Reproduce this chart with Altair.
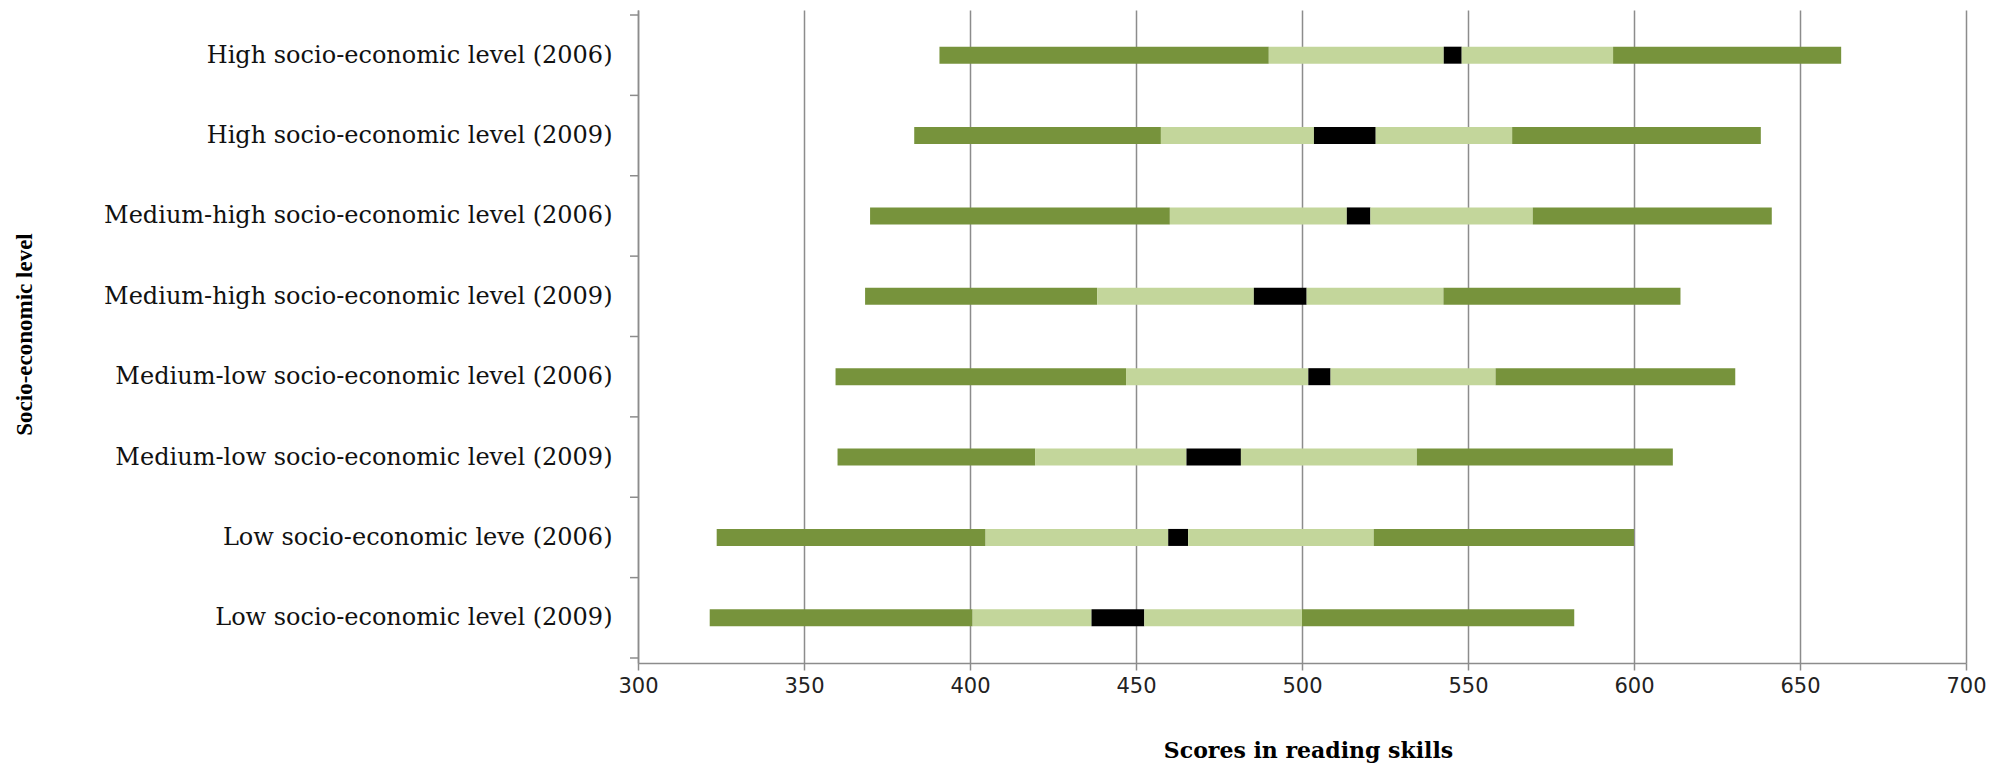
import json
import altair as alt
import pandas as pd

# Reading-skills score distribution by socio-economic level, PISA 2006 vs 2009
groups = [
    "High socio-economic level (2006)",
    "High socio-economic level (2009)",
    "Medium-high socio-economic level (2006)",
    "Medium-high socio-economic level (2009)",
    "Medium-low socio-economic level (2006)",
    "Medium-low socio-economic level (2009)",
    "Low socio-economic leve (2006)",
    "Low socio-economic level (2009)",
]
p5 = [390.8, 383.2, 369.9, 368.4, 359.5, 360.1, 323.7, 321.6]
p25 = [490.0, 457.5, 460.2, 438.3, 447.0, 419.6, 404.7, 400.8]
mean_lo = [542.7, 503.6, 513.5, 485.5, 501.9, 465.2, 459.7, 436.6]
mean_hi = [548.1, 522.2, 520.6, 501.4, 508.6, 481.6, 465.7, 452.5]
p75 = [593.7, 563.3, 569.5, 542.6, 558.3, 534.6, 521.6, 500.0]
p95 = [662.4, 638.2, 641.5, 614.0, 630.5, 611.7, 600.0, 582.0]
x_ticks = [300, 350, 400, 450, 500, 550, 600, 650, 700]

segment_names = ["p5-p25", "p25-mean", "mean", "mean-p75", "p75-p95"]
segment_colors = ["#77933C", "#C3D69B", "#000000", "#C3D69B", "#77933C"]

rows = []
for i, g in enumerate(groups):
    edges = [p5[i], p25[i], mean_lo[i], mean_hi[i], p75[i], p95[i]]
    for k, name in enumerate(segment_names):
        rows.append({"group": g, "pos": i + 0.5, "segment": name,
                     "start": edges[k], "end": edges[k + 1]})
segments = pd.DataFrame(rows)
boundaries = pd.DataFrame({"pos": list(range(len(groups) + 1))})

grey = "#8c8c8c"
y_scale = alt.Scale(domain=[0, len(groups)], reverse=True, nice=False, zero=False)
x_scale = alt.Scale(domain=[300, 700], nice=False, zero=False)

label_expr = f"{json.dumps(groups)}[floor(datum.value)]"

y_axis = alt.Axis(values=[i + 0.5 for i in range(len(groups))],
                  labelExpr=label_expr, ticks=False, grid=False,
                  domainColor=grey, domainWidth=1.5,
                  labelFont="DejaVu Serif", labelFontSize=24, labelLimit=0,
                  labelColor="#111111", labelPadding=26,
                  title="Socio-economic level", titleFont="Liberation Serif",
                  titleFontWeight="bold", titleFontSize=23, titleColor="#000000",
                  titleX=-614, titleY=324, titleAngle=270,
                  titleAlign="center", titleBaseline="middle")

x_axis = alt.Axis(values=x_ticks, grid=True, gridColor=grey, gridWidth=1.5,
                  domainColor=grey, domainWidth=1.5, tickColor=grey,
                  tickWidth=1.5, tickSize=7, labelFont="DejaVu Sans",
                  labelFontSize=21, labelColor="#222222", labelPadding=5,
                  labelFlush=False,
                  title="Scores in reading skills", titleFont="DejaVu Serif",
                  titleFontWeight="bold", titleFontSize=22, titleColor="#000000",
                  titleX=670, titleY=87, titleAlign="center",
                  titleBaseline="middle")

bars = alt.Chart(segments).mark_bar(orient="horizontal", size=17).encode(
    x=alt.X("start:Q", scale=x_scale, axis=x_axis),
    x2="end:Q",
    y=alt.Y("pos:Q", scale=y_scale, axis=y_axis),
    color=alt.Color("segment:N", scale=alt.Scale(domain=segment_names, range=segment_colors),
                    legend=None),
)

# category separator ticks on the left axis
seps = alt.Chart(boundaries).mark_rule(color=grey, strokeWidth=1.5).encode(
    y=alt.Y("pos:Q", scale=y_scale, axis=y_axis),
    x=alt.value(-8),
    x2=alt.value(0),
)

chart = alt.layer(bars, seps).properties(
    width=1328,
    height=653,
    background="#ffffff",
    autosize=alt.AutoSizeParams(type="none"),
    padding={"left": 638, "top": 10, "right": 50, "bottom": 102},
).configure_view(stroke=None)

chart.save("out.html", embed_options={"renderer": "svg", "actions": False})
